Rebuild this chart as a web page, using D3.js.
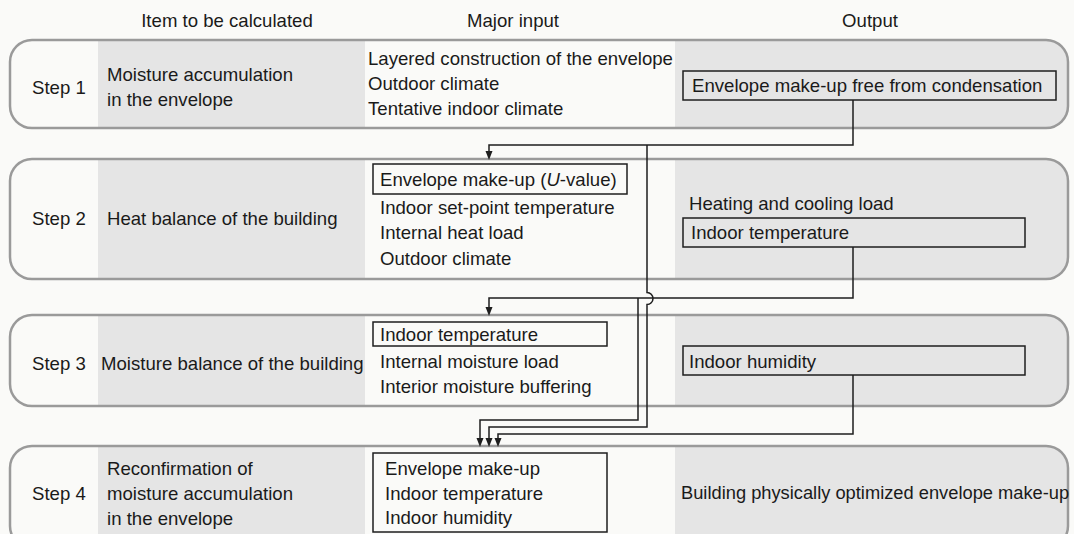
<!DOCTYPE html>
<html>
<head>
<meta charset="utf-8">
<script src="https://cdn.jsdelivr.net/npm/d3@7"></script>
<style>
  html, body { margin: 0; padding: 0; background: #fafaf8; }
  svg { display: block; }
  text { font-family: "Liberation Sans", Arial, Helvetica, sans-serif; font-size: 18.6px; fill: #1a1a1a; }
</style>
</head>
<body>
<svg id="chart" width="1074" height="534"></svg>
<script>
// ---------- data ----------
const headers = ["Item to be calculated", "Major input", "Output"];
const steps = ["Step 1", "Step 2", "Step 3", "Step 4"];
const items = [
  ["Moisture accumulation", "in the envelope"],
  ["Heat balance of the building"],
  ["Moisture balance of the building"],
  ["Reconfirmation of", "moisture accumulation", "in the envelope"]
];
const inputs = [
  ["Layered construction of the envelope", "Outdoor climate", "Tentative indoor climate"],
  ["Envelope make-up (|U|-value)", "Indoor set-point temperature", "Internal heat load", "Outdoor climate"],
  ["Indoor temperature", "Internal moisture load", "Interior moisture buffering"],
  ["Envelope make-up", "Indoor temperature", "Indoor humidity"]
];
const outputs = [
  [{ t: "Envelope make-up free from condensation", boxed: true }],
  [{ t: "Heating and cooling load", boxed: false }, { t: "Indoor temperature", boxed: true }],
  [{ t: "Indoor humidity", boxed: true }],
  [{ t: "Building physically optimized envelope make-up", boxed: false }]
];

// ---------- layout ----------
const W = 1074, H = 534;
const colX = { left: 10, item: 98, input: 365, output: 675, right: 1068 };
const headerX = [227, 513, 870];
const headerY = 20;
const panelY = [[40, 128], [159, 279], [315, 406], [446, 548]];
const rowCenter = [87, 218, 363, 493];
const lineGap = 25;
const itemX = [107, 107, 101, 107];
const inputX = [368, 380, 380, 385];
const inputLineY = [[58, 83, 108], [179, 207, 232, 258], [334, 361, 386], [468, 493, 517]];
const inputBox = [null, [373, 164, 627, 194], [373, 322, 607, 346], [373, 453, 607, 532]];
const outputLineY = [[85], [203, 232], [361], [493]];
const outputX = [[692], [689, 691], [689], [681]];
const outputSize = [[null], [null, null], [null], ["18.3px"]];
const outputBox = [[683, 71, 1056, 100], [683, 218, 1025, 247], [683, 346, 1025, 375], null];
const R = 22;
const gray = "#e5e5e5", light = "#fafaf8", border = "#9a9a9a", ink = "#1e1e1e";

const svg = d3.select("#chart");
const defs = svg.append("defs");

// headers
svg.selectAll("text.hdr").data(headers).join("text")
  .attr("class", "hdr")
  .attr("x", (d, i) => headerX[i]).attr("y", headerY).attr("dy", "0.35em")
  .attr("text-anchor", "middle").text(d => d);

function roundedPanel(x0, y0, x1, y1, r) {
  const p = d3.path();
  p.moveTo(x0 + r, y0);
  p.lineTo(x1 - r, y0);
  p.arcTo(x1, y0, x1, y0 + r, r);
  p.lineTo(x1, y1 - r);
  p.arcTo(x1, y1, x1 - r, y1, r);
  p.lineTo(x0 + r, y1);
  p.arcTo(x0, y1, x0, y1 - r, r);
  p.lineTo(x0, y0 + r);
  p.arcTo(x0, y0, x0 + r, y0, r);
  p.closePath();
  return p.toString();
}

// panels
steps.forEach((s, i) => {
  const [y0, y1] = panelY[i];
  const d = roundedPanel(colX.left, y0, colX.right, y1, R);
  defs.append("clipPath").attr("id", "clip" + i).append("path").attr("d", d);
  const g = svg.append("g");
  g.append("path").attr("d", d).attr("fill", light);
  const cg = g.append("g").attr("clip-path", `url(#clip${i})`);
  cg.append("rect").attr("x", colX.item).attr("y", y0).attr("width", colX.input - colX.item).attr("height", y1 - y0).attr("fill", gray);
  cg.append("rect").attr("x", colX.output).attr("y", y0).attr("width", colX.right - colX.output + 5).attr("height", y1 - y0).attr("fill", gray);
  g.append("path").attr("d", d).attr("fill", "none").attr("stroke", border).attr("stroke-width", 2.5);

  // step label
  g.append("text").attr("x", 32).attr("y", rowCenter[i]).attr("dy", "0.35em").text(s);

  // item lines
  const n = items[i].length;
  g.selectAll(null).data(items[i]).join("text")
    .attr("x", itemX[i])
    .attr("y", (d, k) => rowCenter[i] + (k - (n - 1) / 2) * lineGap)
    .attr("dy", "0.35em").text(d => d);

  // input box
  if (inputBox[i]) {
    const [bx0, by0, bx1, by1] = inputBox[i];
    g.append("rect").attr("x", bx0).attr("y", by0).attr("width", bx1 - bx0).attr("height", by1 - by0)
      .attr("fill", light).attr("stroke", ink).attr("stroke-width", 1.5);
  }
  // input lines (| marks italic part)
  inputs[i].forEach((t, k) => {
    const tx = g.append("text").attr("x", inputX[i]).attr("y", inputLineY[i][k]).attr("dy", "0.35em");
    t.split("|").forEach((part, j) => {
      tx.append("tspan").attr("font-style", j % 2 ? "italic" : "normal").text(part);
    });
  });

  // output box
  if (outputBox[i]) {
    const [bx0, by0, bx1, by1] = outputBox[i];
    g.append("rect").attr("x", bx0).attr("y", by0).attr("width", bx1 - bx0).attr("height", by1 - by0)
      .attr("fill", gray).attr("stroke", ink).attr("stroke-width", 1.5);
  }
  outputs[i].forEach((o, k) => {
    const t = g.append("text").attr("x", outputX[i][k]).attr("y", outputLineY[i][k]).attr("dy", "0.35em").text(o.t);
    if (outputSize[i][k]) t.style("font-size", outputSize[i][k]);
  });
});

// ---------- connectors ----------
const conn = svg.append("g").attr("fill", "none").attr("stroke", ink).attr("stroke-width", 1.5);
function arrowHead(x, y) {
  svg.append("path")
    .attr("d", `M${x},${y} L${x - 3.5},${y - 9} L${x + 3.5},${y - 9} Z`)
    .attr("fill", ink);
}
const line = d3.line();
// Step1 output -> Step2 input
conn.append("path").attr("d", line([[853, 100], [853, 145], [489, 145], [489, 152]]));
arrowHead(489, 160);
// Step2 output -> Step3 input
conn.append("path").attr("d", line([[853, 247], [853, 298], [489, 298], [489, 308]]));
arrowHead(489, 316);
// Step1 envelope -> Step4 (hops over step2 line)
const p1 = d3.path();
p1.moveTo(647, 145); p1.lineTo(647, 292.5);
p1.arc(647, 298.5, 6, -Math.PI / 2, Math.PI / 2, false);
p1.lineTo(647, 427); p1.lineTo(489, 427); p1.lineTo(489, 439);
conn.append("path").attr("d", p1.toString());
arrowHead(489, 447);
// Step2 temperature -> Step4
conn.append("path").attr("d", line([[638, 298], [638, 420], [480, 420], [480, 439]]));
arrowHead(480, 447);
// Step3 humidity -> Step4
conn.append("path").attr("d", line([[853, 375], [853, 434], [498, 434], [498, 439]]));
arrowHead(498, 447);
</script>
</body>
</html>
